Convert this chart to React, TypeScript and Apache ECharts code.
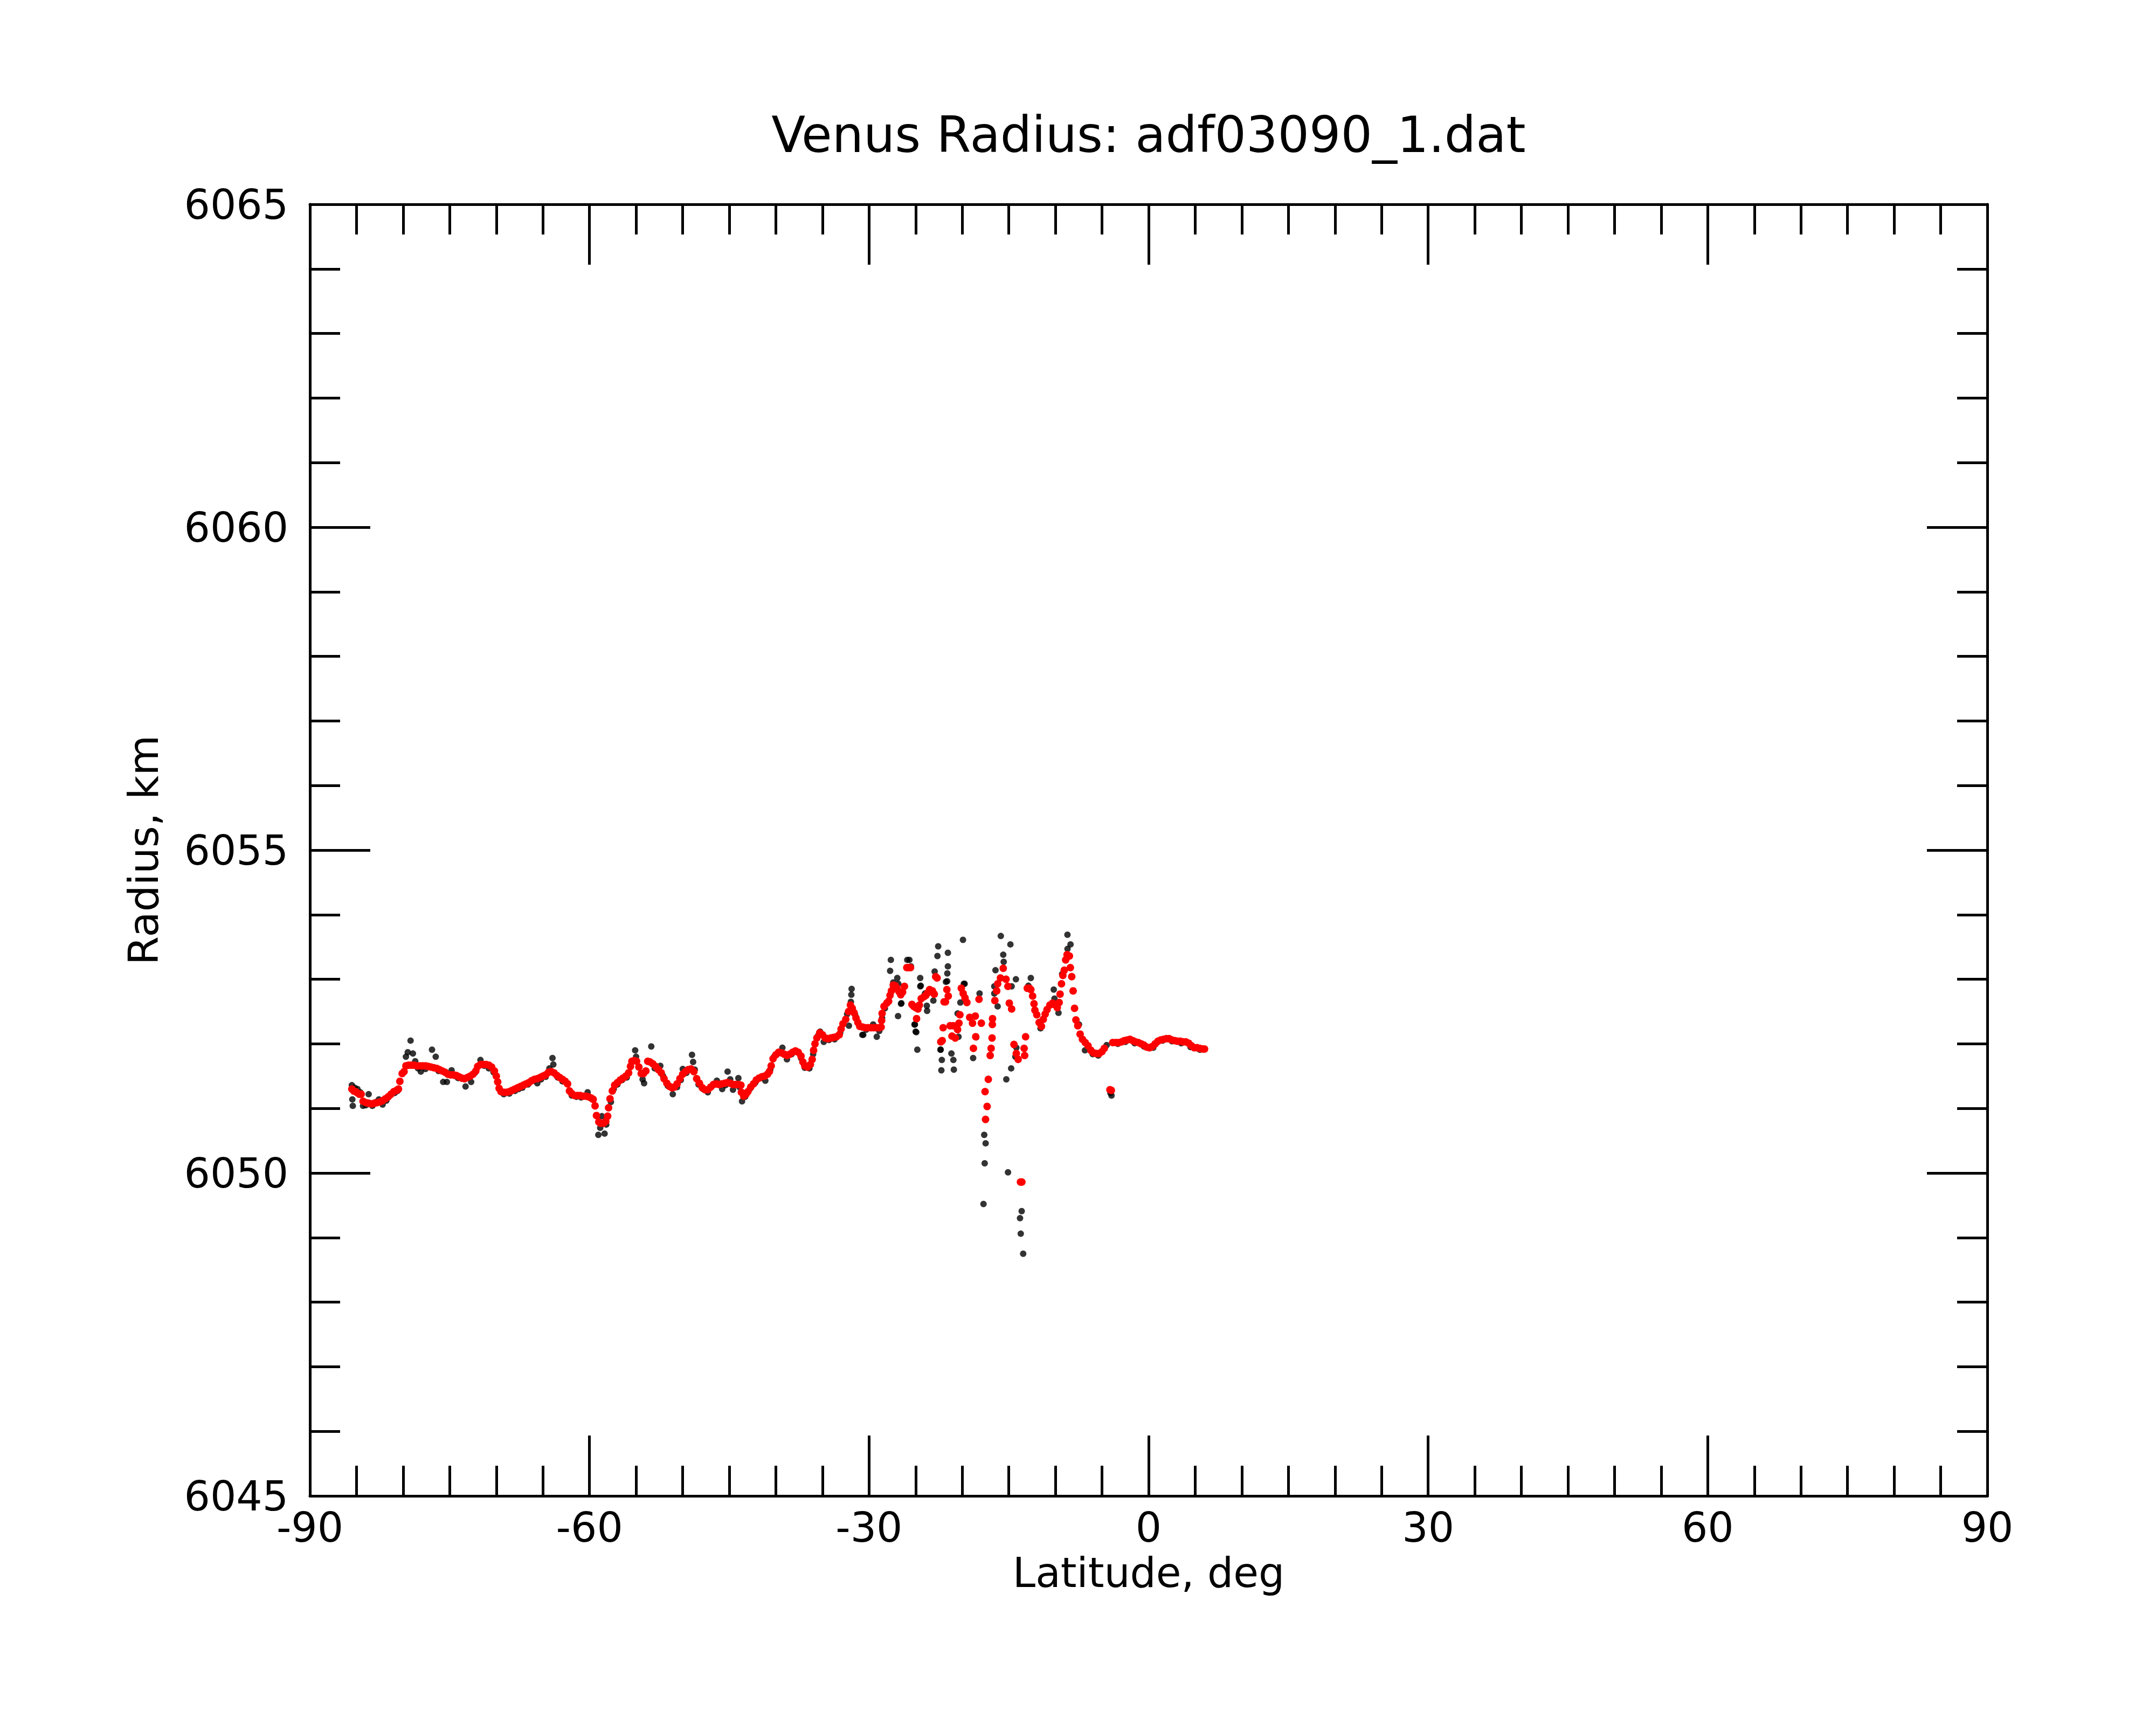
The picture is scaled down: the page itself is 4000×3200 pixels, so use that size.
import React, { useEffect, useRef } from "react";
import * as echarts from "echarts";

const TITLE = "Venus Radius: adf03090_1.dat";
const X_NAME = "Latitude, deg";
const Y_NAME = "Radius, km";
const X_MIN = -90;
const X_MAX = 90;
const X_STEP = 30;
const Y_MIN = 6045;
const Y_MAX = 6065;
const Y_STEP = 5;

// raw samples (black)
const rawPoints: number[][] = [
  [-85.5, 6051.36], [-85.45, 6051.14], [-85.4, 6051.04], [-85.2, 6051.32], [-84.9, 6051.3], [-84.6, 6051.25],
  [-84.3, 6051.04], [-84.0, 6051.05], [-83.7, 6051.22], [-83.3, 6051.04], [-82.9, 6051.1], [-82.6, 6051.14],
  [-82.2, 6051.06], [-81.8, 6051.12], [-81.4, 6051.2], [-80.9, 6051.24], [-80.6, 6051.27], [-79.7, 6051.8],
  [-79.5, 6051.87], [-79.2, 6052.05], [-78.95, 6051.85], [-78.7, 6051.73], [-78.4, 6051.62], [-78.1, 6051.57],
  [-77.6, 6051.61], [-76.9, 6051.91], [-76.5, 6051.8], [-76.2, 6051.58], [-75.7, 6051.41], [-75.3, 6051.41],
  [-74.8, 6051.59], [-74.4, 6051.5], [-74.1, 6051.47], [-73.3, 6051.34], [-72.7, 6051.41], [-72.3, 6051.55],
  [-71.7, 6051.75], [-71.3, 6051.66], [-70.8, 6051.62], [-70.3, 6051.56], [-69.2, 6051.22], [-68.6, 6051.23],
  [-68.0, 6051.27], [-67.6, 6051.3], [-67.2, 6051.32], [-66.6, 6051.37], [-66.0, 6051.43], [-65.6, 6051.39],
  [-65.2, 6051.45], [-64.7, 6051.49], [-64.3, 6051.62], [-63.97, 6051.78], [-63.88, 6051.68], [-63.4, 6051.48],
  [-62.9, 6051.42], [-61.9, 6051.2], [-61.4, 6051.18], [-60.9, 6051.17], [-60.2, 6051.25], [-59.7, 6051.14],
  [-59.05, 6050.59], [-58.85, 6050.7], [-58.67, 6050.88], [-58.38, 6050.61], [-58.2, 6050.75],
  [-57.7, 6051.1], [-57.4, 6051.3], [-57.0, 6051.37], [-56.5, 6051.44], [-56.0, 6051.48], [-55.6, 6051.66],
  [-55.1, 6051.9], [-55.0, 6051.8], [-54.14, 6051.39], [-54.3, 6051.45], [-53.37, 6051.96], [-53.0, 6051.62],
  [-52.4, 6051.66], [-52.1, 6051.5], [-51.6, 6051.35], [-51.06, 6051.22], [-50.6, 6051.33], [-50.2, 6051.44],
  [-49.99, 6051.61], [-49.6, 6051.55], [-49.0, 6051.83], [-48.88, 6051.72], [-48.7, 6051.6], [-48.3, 6051.37],
  [-47.8, 6051.3], [-47.3, 6051.25], [-46.8, 6051.35], [-46.33, 6051.43], [-45.76, 6051.3], [-45.4, 6051.36],
  [-45.18, 6051.57], [-44.9, 6051.45], [-44.6, 6051.29], [-44.02, 6051.47], [-43.9, 6051.33], [-43.63, 6051.11],
  [-43.3, 6051.18], [-42.8, 6051.3], [-42.2, 6051.4], [-41.6, 6051.47], [-41.13, 6051.43], [-40.6, 6051.6],
  [-40.2, 6051.8], [-39.8, 6051.86], [-39.3, 6051.94], [-38.81, 6051.76], [-38.3, 6051.84], [-37.8, 6051.88],
  [-37.3, 6051.78], [-36.9, 6051.63], [-36.4, 6051.62], [-36.0, 6051.84], [-35.5, 6052.12], [-35.25, 6052.19],
  [-34.86, 6052.03], [-34.3, 6052.06], [-33.7, 6052.07], [-33.1, 6052.17], [-32.35, 6052.46], [-32.16, 6052.28],
  [-32.16, 6052.5], [-31.87, 6052.85], [-31.9, 6052.76], [-31.95, 6052.65], [-31.5, 6052.45], [-30.72, 6052.14],
  [-30.62, 6052.14], [-30.3, 6052.22], [-29.56, 6052.3], [-29.17, 6052.11], [-28.9, 6052.2],
  [-28.6, 6052.4], [-28.3, 6052.55], [-27.74, 6053.13], [-27.66, 6053.3], [-27.4, 6052.95], [-26.97, 6053.02],
  [-26.89, 6052.43], [-26.53, 6052.63], [-26.86, 6052.93], [-26.57, 6052.62], [-25.67, 6053.3], [-25.9, 6053.3],
  [-25.5, 6053.2], [-25.08, 6052.3], [-25.0, 6052.19], [-24.82, 6051.91], [-24.93, 6052.18], [-25.12, 6052.3],
  [-24.51, 6053.02], [-24.45, 6052.9], [-24.5, 6052.89], [-24.0, 6052.78], [-23.8, 6052.59], [-23.77, 6052.51],
  [-23.1, 6052.67], [-22.96, 6053.12], [-22.58, 6053.51], [-22.66, 6053.36], [-21.54, 6053.41], [-21.54, 6053.2],
  [-21.6, 6053.09], [-21.62, 6052.97], [-21.75, 6052.96], [-22.32, 6051.91], [-22.19, 6051.75], [-22.24, 6051.59],
  [-22.33, 6051.91], [-21.16, 6051.85], [-20.95, 6051.75], [-20.9, 6051.6], [-20.4, 6052.11], [-20.5, 6052.47],
  [-19.92, 6053.61], [-19.83, 6052.93], [-19.74, 6052.93], [-20.2, 6052.64], [-18.83, 6051.78], [-18.14, 6052.78],
  [-18.5, 6052.1], [-15.86, 6053.67], [-14.83, 6053.54], [-15.6, 6053.38], [-15.55, 6053.27], [-16.43, 6053.14],
  [-16.56, 6052.89], [-16.56, 6052.78], [-16.2, 6052.58], [-14.7, 6052.89], [-14.24, 6053.0], [-15.27, 6051.45],
  [-14.75, 6051.62], [-15.09, 6050.01], [-17.64, 6050.59], [-17.49, 6050.46], [-17.59, 6050.15], [-17.72, 6049.52],
  [-13.62, 6049.41], [-13.8, 6049.3], [-13.72, 6049.06], [-13.46, 6048.75], [-14.19, 6051.94], [-14.3, 6051.8],
  [-12.64, 6053.02], [-12.9, 6052.9], [-11.6, 6052.24], [-10.18, 6052.84], [-10.1, 6052.7], [-9.67, 6052.48],
  [-8.71, 6053.69], [-8.38, 6053.54], [-8.7, 6053.47], [-9.28, 6053.08], [-7.47, 6052.3], [-6.83, 6051.9],
  [-6.0, 6051.84], [-5.4, 6051.82], [-3.98, 6051.2], [-4.5, 6051.98], [-4.1, 6051.24], [-3.3, 6052.0],
  [-2.5, 6052.03], [-1.5, 6052.01], [-0.5, 6051.96], [0.5, 6051.94], [1.5, 6052.05], [2.5, 6052.04],
  [3.5, 6052.01], [4.5, 6051.95], [5.5, 6051.91],
];

// filtered samples (red)
const fitPoints: number[][] = [
  [-85.5, 6051.3], [-85.3, 6051.27], [-85.1, 6051.26], [-84.9, 6051.24], [-84.7, 6051.22], [-84.5, 6051.22],
  [-84.3, 6051.11], [-84.0, 6051.09], [-83.7, 6051.08], [-83.4, 6051.07], [-83.1, 6051.08], [-82.8, 6051.09],
  [-82.5, 6051.1], [-82.2, 6051.12], [-81.9, 6051.15], [-81.6, 6051.18], [-81.3, 6051.22], [-81.0, 6051.26],
  [-80.7, 6051.28], [-80.5, 6051.3], [-80.35, 6051.42], [-80.1, 6051.54], [-79.9, 6051.57], [-79.7, 6051.66],
  [-79.4, 6051.67], [-79.1, 6051.67], [-78.8, 6051.67], [-78.5, 6051.66], [-78.2, 6051.66], [-77.9, 6051.66],
  [-77.6, 6051.66], [-77.3, 6051.65], [-77.0, 6051.64], [-76.7, 6051.63], [-76.4, 6051.62], [-76.1, 6051.6],
  [-75.8, 6051.58], [-75.5, 6051.56], [-75.2, 6051.53], [-74.9, 6051.52], [-74.6, 6051.52], [-74.3, 6051.51],
  [-74.0, 6051.49], [-73.7, 6051.47], [-73.4, 6051.46], [-73.1, 6051.48], [-72.8, 6051.5], [-72.5, 6051.53],
  [-72.2, 6051.58], [-72.0, 6051.65], [-71.7, 6051.68], [-71.4, 6051.68], [-71.1, 6051.68], [-70.8, 6051.67],
  [-70.5, 6051.64], [-70.2, 6051.58], [-70.0, 6051.5], [-69.85, 6051.41], [-69.7, 6051.31], [-69.5, 6051.26],
  [-69.2, 6051.25], [-68.9, 6051.25], [-68.6, 6051.26], [-68.3, 6051.28], [-68.0, 6051.3], [-67.7, 6051.32],
  [-67.4, 6051.34], [-67.1, 6051.36], [-66.8, 6051.38], [-66.5, 6051.4], [-66.2, 6051.43], [-65.9, 6051.45],
  [-65.6, 6051.46], [-65.3, 6051.48], [-65.0, 6051.5], [-64.7, 6051.52], [-64.4, 6051.56], [-64.1, 6051.57],
  [-63.8, 6051.55], [-63.5, 6051.51], [-63.2, 6051.48], [-62.9, 6051.45], [-62.6, 6051.42], [-62.35, 6051.38],
  [-62.15, 6051.27], [-61.9, 6051.23], [-61.6, 6051.2], [-61.3, 6051.2], [-61.0, 6051.2], [-60.7, 6051.19],
  [-60.4, 6051.19], [-60.1, 6051.18], [-59.8, 6051.16], [-59.6, 6051.14], [-59.4, 6051.04], [-59.25, 6050.89],
  [-59.0, 6050.79], [-58.8, 6050.77], [-58.5, 6050.77], [-58.25, 6050.8], [-58.05, 6050.88], [-57.95, 6051.01],
  [-57.8, 6051.15], [-57.55, 6051.27], [-57.3, 6051.36],
  [-57.0, 6051.4], [-56.7, 6051.44], [-56.4, 6051.47], [-56.1, 6051.5], [-55.8, 6051.55], [-55.6, 6051.65],
  [-55.45, 6051.73], [-55.2, 6051.74], [-54.95, 6051.73], [-54.7, 6051.64], [-54.45, 6051.54], [-54.2, 6051.54],
  [-53.95, 6051.58], [-53.75, 6051.73], [-53.5, 6051.72], [-53.2, 6051.69], [-52.9, 6051.65], [-52.6, 6051.6],
  [-52.3, 6051.55], [-52.0, 6051.46], [-51.7, 6051.39], [-51.4, 6051.34], [-51.15, 6051.32], [-50.9, 6051.33],
  [-50.6, 6051.38], [-50.3, 6051.46], [-50.0, 6051.53], [-49.7, 6051.57], [-49.4, 6051.6], [-49.1, 6051.61],
  [-48.8, 6051.57], [-48.5, 6051.46], [-48.2, 6051.39], [-47.9, 6051.32], [-47.6, 6051.29], [-47.3, 6051.29],
  [-47.0, 6051.33], [-46.7, 6051.37], [-46.4, 6051.38], [-46.1, 6051.37], [-45.8, 6051.38], [-45.5, 6051.39],
  [-45.2, 6051.4], [-44.9, 6051.39], [-44.6, 6051.37], [-44.3, 6051.37], [-44.0, 6051.37], [-43.75, 6051.36],
  [-43.7, 6051.25], [-43.45, 6051.19], [-43.2, 6051.22], [-43.0, 6051.26], [-42.7, 6051.33], [-42.4, 6051.38],
  [-42.1, 6051.44], [-41.8, 6051.47], [-41.5, 6051.49], [-41.2, 6051.5], [-40.9, 6051.53], [-40.7, 6051.57],
  [-40.5, 6051.66], [-40.3, 6051.77], [-40.0, 6051.83], [-39.7, 6051.87], [-39.4, 6051.86], [-39.1, 6051.84],
  [-38.8, 6051.82], [-38.5, 6051.84], [-38.2, 6051.87], [-37.9, 6051.89], [-37.6, 6051.87], [-37.3, 6051.81],
  [-37.1, 6051.72], [-36.9, 6051.66], [-36.6, 6051.64], [-36.3, 6051.68], [-36.1, 6051.76], [-35.95, 6051.9],
  [-35.8, 6052.0], [-35.6, 6052.09], [-35.3, 6052.17], [-35.0, 6052.14], [-34.7, 6052.09], [-34.4, 6052.08],
  [-34.1, 6052.09], [-33.8, 6052.1], [-33.5, 6052.11], [-33.2, 6052.14], [-33.0, 6052.23], [-32.8, 6052.31],
  [-32.5, 6052.38], [-32.2, 6052.5], [-32.0, 6052.6], [-31.8, 6052.55], [-31.6, 6052.48], [-31.4, 6052.4],
  [-31.2, 6052.33], [-31.0, 6052.27], [-30.7, 6052.26], [-30.4, 6052.25], [-30.1, 6052.25], [-29.8, 6052.25],
  [-29.5, 6052.25], [-29.2, 6052.25], [-28.9, 6052.25], [-28.7, 6052.26],
  [-28.65, 6052.36], [-28.6, 6052.47], [-28.4, 6052.58], [-28.1, 6052.63], [-27.9, 6052.66], [-27.75, 6052.75],
  [-27.6, 6052.82], [-27.4, 6052.91], [-27.2, 6052.9], [-27.0, 6052.86], [-26.8, 6052.81], [-26.6, 6052.76],
  [-26.4, 6052.8], [-26.2, 6052.89], [-25.95, 6053.18], [-25.75, 6053.18], [-25.55, 6053.18], [-25.4, 6052.61],
  [-25.2, 6052.58], [-25.0, 6052.56], [-24.9, 6052.39], [-24.75, 6052.54], [-24.6, 6052.6], [-24.4, 6052.7],
  [-24.1, 6052.73], [-23.9, 6052.75], [-23.7, 6052.79], [-23.5, 6052.84], [-23.2, 6052.82], [-23.0, 6052.77],
  [-22.85, 6053.04], [-22.7, 6053.02], [-22.3, 6052.03], [-22.15, 6052.05], [-22.05, 6052.25], [-21.95, 6052.65],
  [-21.8, 6052.65], [-21.65, 6052.84], [-21.5, 6052.74], [-21.3, 6052.28], [-21.1, 6052.12], [-20.95, 6052.28],
  [-20.75, 6052.09], [-20.5, 6052.22], [-20.35, 6052.32], [-20.25, 6052.45], [-20.1, 6052.86], [-19.9, 6052.78],
  [-19.7, 6052.71], [-19.5, 6052.64], [-19.2, 6052.41], [-18.9, 6052.32], [-18.6, 6052.43], [-18.55, 6052.11],
  [-18.8, 6051.93], [-18.2, 6052.69], [-17.95, 6052.32], [-17.2, 6051.45], [-17.55, 6051.26], [-17.33, 6051.03],
  [-17.5, 6050.83], [-17.0, 6051.82], [-16.9, 6051.93], [-16.8, 6052.09], [-16.77, 6052.3], [-16.75, 6052.39],
  [-16.5, 6052.67], [-16.3, 6052.82], [-16.2, 6052.93], [-15.9, 6053.02], [-15.6, 6053.17], [-15.3, 6053.0],
  [-15.1, 6052.89], [-14.95, 6052.63], [-14.7, 6052.54], [-14.45, 6051.99], [-14.2, 6051.85], [-14.0, 6051.76],
  [-13.75, 6049.86], [-13.6, 6049.86], [-13.36, 6051.93], [-13.3, 6051.82], [-13.2, 6052.11], [-13.02, 6052.86],
  [-12.8, 6052.86], [-12.64, 6052.84], [-12.45, 6052.74], [-12.3, 6052.62], [-12.2, 6052.52], [-12.0, 6052.45],
  [-11.75, 6052.33], [-11.5, 6052.27], [-11.3, 6052.38], [-11.1, 6052.46], [-10.9, 6052.53], [-10.6, 6052.6],
  [-10.3, 6052.63], [-10.0, 6052.6], [-9.8, 6052.56], [-9.6, 6052.64], [-9.5, 6052.77], [-9.35, 6052.93],
  [-9.2, 6053.06], [-9.05, 6053.14], [-8.9, 6053.3], [-8.75, 6053.38], [-8.5, 6053.36], [-8.4, 6053.18],
  [-8.25, 6053.04], [-8.1, 6052.82], [-7.95, 6052.55], [-7.8, 6052.37], [-7.6, 6052.28], [-7.35, 6052.15],
  [-7.1, 6052.07], [-6.8, 6052.02], [-6.5, 6051.97], [-6.2, 6051.9], [-5.9, 6051.86], [-5.6, 6051.85],
  [-5.3, 6051.85], [-5.0, 6051.88], [-4.75, 6051.93], [-4.15, 6051.29], [-4.0, 6051.28], [-3.85, 6052.02],
  [-3.5, 6052.02], [-3.2, 6052.02], [-2.9, 6052.03], [-2.6, 6052.05], [-2.3, 6052.06], [-2.0, 6052.07],
  [-1.7, 6052.05], [-1.4, 6052.03], [-1.1, 6052.02], [-0.8, 6052.0], [-0.5, 6051.98], [-0.2, 6051.95],
  [0.1, 6051.94], [0.4, 6051.96], [0.7, 6052.0], [1.0, 6052.04], [1.3, 6052.06], [1.6, 6052.07],
  [1.9, 6052.08], [2.2, 6052.08], [2.5, 6052.06], [2.8, 6052.05], [3.1, 6052.04], [3.4, 6052.04],
  [3.7, 6052.03], [4.0, 6052.03], [4.3, 6052.01], [4.6, 6051.97], [4.9, 6051.94], [5.2, 6051.94],
  [5.5, 6051.93], [5.8, 6051.92], [6.0, 6051.92],
];

const FONT = "DejaVu Sans";

export default function App() {
  const ref = useRef<HTMLDivElement>(null);
  useEffect(() => {
    document.body.style.margin = "0";
    if (!ref.current) return;
    const chart = echarts.init(ref.current, undefined, { renderer: "svg" });
    const axisLine = { show: true, onZero: false, lineStyle: { color: "#000", width: 5 } };
    const tick = { show: true, inside: true, length: 112, lineStyle: { color: "#000", width: 5 } };
    const minorX = { show: true, splitNumber: 6, length: 56, lineStyle: { color: "#000", width: 5 } };
    const minorY = { show: true, splitNumber: 5, length: 56, lineStyle: { color: "#000", width: 5 } };
    const label = {
      color: "#000", fontFamily: FONT, fontSize: 76, lineHeight: 76,
      formatter: (v: number) => String(v),
    };
    chart.setOption({
      animation: false,
      backgroundColor: "#fff",
      grid: { left: 575, right: 313, top: 379, bottom: 425, containLabel: false },
      xAxis: [
        {
          type: "value", position: "bottom", min: X_MIN, max: X_MAX, interval: X_STEP,
          axisLine, axisTick: tick, minorTick: minorX, splitLine: { show: false },
          axisLabel: { ...label, margin: 20 },
        },
        {
          type: "value", position: "top", min: X_MIN, max: X_MAX, interval: X_STEP,
          axisLine, axisTick: tick, minorTick: minorX, splitLine: { show: false },
          axisLabel: { show: false },
        },
      ],
      yAxis: [
        {
          type: "value", position: "left", min: Y_MIN, max: Y_MAX, interval: Y_STEP,
          axisLine, axisTick: tick, minorTick: minorY, splitLine: { show: false },
          axisLabel: { ...label, margin: 40 },
        },
        {
          type: "value", position: "right", min: Y_MIN, max: Y_MAX, interval: Y_STEP,
          axisLine, axisTick: tick, minorTick: minorY, splitLine: { show: false },
          axisLabel: { show: false },
        },
      ],
      graphic: [
        {
          type: "text", x: 2131, y: 250,
          style: { text: TITLE, fill: "#000", font: `92px "${FONT}"`, align: "center", verticalAlign: "middle" },
        },
        {
          type: "text", x: 2131, y: 2917,
          style: {
            text: X_NAME, fill: "#000", font: `76px "${FONT}"`, lineHeight: 76,
            align: "center", verticalAlign: "middle",
          },
        },
        {
          type: "text", x: 266, y: 1577, rotation: Math.PI / 2,
          style: { text: Y_NAME, fill: "#000", font: `77px "${FONT}"`, align: "center", verticalAlign: "middle" },
        },
      ],
      series: [
        {
          type: "scatter", xAxisIndex: 0, yAxisIndex: 0, data: rawPoints,
          symbol: "circle", symbolSize: 12, itemStyle: { color: "#000" }, silent: true,
        },
        {
          type: "scatter", xAxisIndex: 0, yAxisIndex: 0, data: fitPoints,
          symbol: "circle", symbolSize: 14, itemStyle: { color: "#ff0000", opacity: 1 }, silent: true,
        },
      ],
    });
    return () => chart.dispose();
  }, []);
  return <div ref={ref} style={{ width: 4000, height: 3200 }} />;
}
